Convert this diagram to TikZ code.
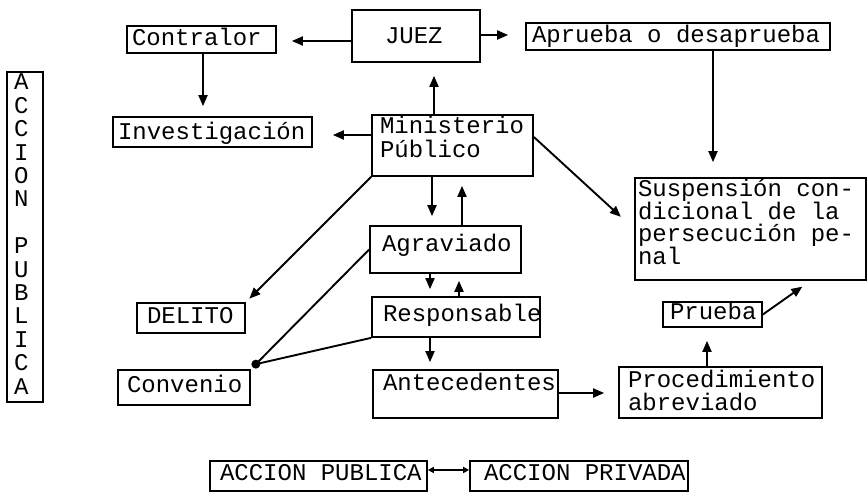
\documentclass[tikz,border=0pt]{standalone}
\usepackage{fontspec}
\newfontfamily\twfont{Liberation Mono}
\usetikzlibrary{arrows.meta,calc}
% #1 width, #2 height, #3 top-to-first-baseline, #4 left pad, #5 baselineskip, #6 text
\newcommand\bxt[6]{\parbox[c][#2][t]{#1}{\fontsize{24pt}{#5}\selectfont\raggedright\leftskip=#4\relax\lineskiplimit=-50pt\lineskip=0pt\rule{0pt}{#3}#6}}
\begin{document}
\begin{tikzpicture}[x=1pt,y=-1pt,
  box/.style={draw, line width=1.7pt, inner sep=0pt, font=\twfont},
  arr/.style={line width=1.9pt, -{Triangle[length=11pt,width=9pt]}},
  darr/.style={line width=1.6pt, {Triangle[length=6pt,width=6pt]}-{Triangle[length=6pt,width=6pt]}},
  conn/.style={line width=1.9pt}]
\useasboundingbox (0,0) rectangle (867,502);

% boxes
\node[box] (vbox)    at (25,237)    {\bxt{36pt}{330pt}{18pt}{7pt}{23.4pt}{A\\C\\C\\I\\O\\N\\[23.4pt]P\\U\\B\\L\\I\\C\\A}};
\node[box] (juez)    at (416,36)    {\bxt{128pt}{52pt}{34pt}{33pt}{25pt}{JUEZ}};
\node[box] (contr)   at (201.5,39.5){\bxt{149pt}{27pt}{20pt}{5pt}{25pt}{Contralor}};
\node[box] (aprueba) at (678,36.5)  {\bxt{304pt}{27pt}{20pt}{6pt}{25pt}{Aprueba o desaprueba}};
\node[box] (invest)  at (212.5,132) {\bxt{199pt}{30pt}{23pt}{5pt}{25pt}{Investigación}};
\node[box] (min)     at (452.5,145.5){\bxt{161pt}{61pt}{19pt}{8pt}{24pt}{Ministerio\\Público}};
\node[box] (agr)     at (445.5,249.5){\bxt{151pt}{47pt}{26pt}{12pt}{25pt}{Agraviado}};
\node[box] (resp)    at (456,317)   {\bxt{168pt}{40pt}{25pt}{11pt}{25pt}{Responsable}};
\node[box] (ant)     at (465.5,394) {\bxt{185pt}{48pt}{20pt}{10pt}{25pt}{Antecedentes}};
\node[box] (proc)    at (720.5,392.5){\bxt{203pt}{51pt}{20pt}{9pt}{23pt}{Procedimiento\\abreviado}};
\node[box] (prueba)  at (712.5,314.5){\bxt{99pt}{25pt}{16pt}{7pt}{25pt}{Prueba}};
\node[box] (susp)    at (750.5,229) {\bxt{231pt}{102pt}{19pt}{3pt}{22.5pt}{Suspensión con-\\dicional de la\\persecución pe-\\nal}};
\node[box] (delito)  at (191,318)   {\bxt{108pt}{30pt}{20pt}{10pt}{25pt}{DELITO}};
\node[box] (conv)    at (184,387.5) {\bxt{132pt}{35pt}{22pt}{9pt}{25pt}{Convenio}};
\node[box] (apub)    at (318.5,476) {\bxt{217pt}{30pt}{19pt}{10pt}{25pt}{ACCION PUBLICA}};
\node[box] (apriv)   at (579,476)   {\bxt{218pt}{30pt}{19pt}{14pt}{25pt}{ACCION PRIVADA}};

% connectors
\draw[arr, shorten >=15pt] ($(juez.west)+(0,5)$) -- ($(contr.east)+(0,1.5)$);
\draw[arr, shorten >=17pt] ($(juez.east)+(0,-1)$) -- ($(aprueba.west)+(0,-1.5)$);
\draw[arr, shorten >=10pt] ($(contr.south)+(1.5,0)$) -- ($(invest.north)+(-9.5,0)$);
\draw[arr, shorten >=20pt] ($(min.west)+(0,-10.5)$) -- ($(invest.east)+(0,3)$);
\draw[arr, shorten >=13pt] ($(min.north)+(-18.5,0)$) -- ($(juez.south)+(18,0)$);
\draw[arr, shorten >=15pt] ($(aprueba.south)+(35,0)$) -- ($(susp.north)+(-37.5,0)$);
\draw[arr, shorten >=18pt] ($(min.east)+(0,-8.5)$) -- (susp.west);
\draw[arr, shorten >=9pt] ($(min.south)+(-20.5,0)$) -- ($(agr.north)+(-13.5,0)$);
\draw[arr, shorten >=9pt] ($(agr.north)+(16.5,0)$) -- ($(min.south)+(9.5,0)$);
\draw[arr, shorten >=7pt] ($(agr.south)+(-15.5,0)$) -- ($(resp.north)+(-26,0)$);
\draw[arr, shorten >=7pt] ($(resp.north)+(3,0)$) -- ($(agr.south)+(13.5,0)$);
\draw[arr, shorten >=7pt] ($(resp.south)+(-26,0)$) -- ($(ant.north)+(-35.5,0)$);
\draw[arr, shorten >=5pt] (min.south west) -- (delito.north east);
\coordinate (cdot) at ($(conv.north east)+(5,-5)$);
\draw[conn] (agr.west) -- (cdot);
\draw[conn] (resp.south west) -- (cdot);
\fill (cdot) circle (4.5);
\draw[arr, shorten >=14pt] ($(ant.east)+(0,-1)$) -- ($(proc.west)+(0,0.5)$);
\draw[arr, shorten >=13pt] ($(proc.north)+(-13.5,0)$) -- ($(prueba.south)+(-5.5,0)$);
\draw[arr, shorten >=10pt] (prueba.east) -- ($(susp.south)+(60,0)$);
\draw[darr] ($(apub.east)+(0,-6)$) -- ($(apriv.west)+(0,-6)$);
\end{tikzpicture}
\end{document}
